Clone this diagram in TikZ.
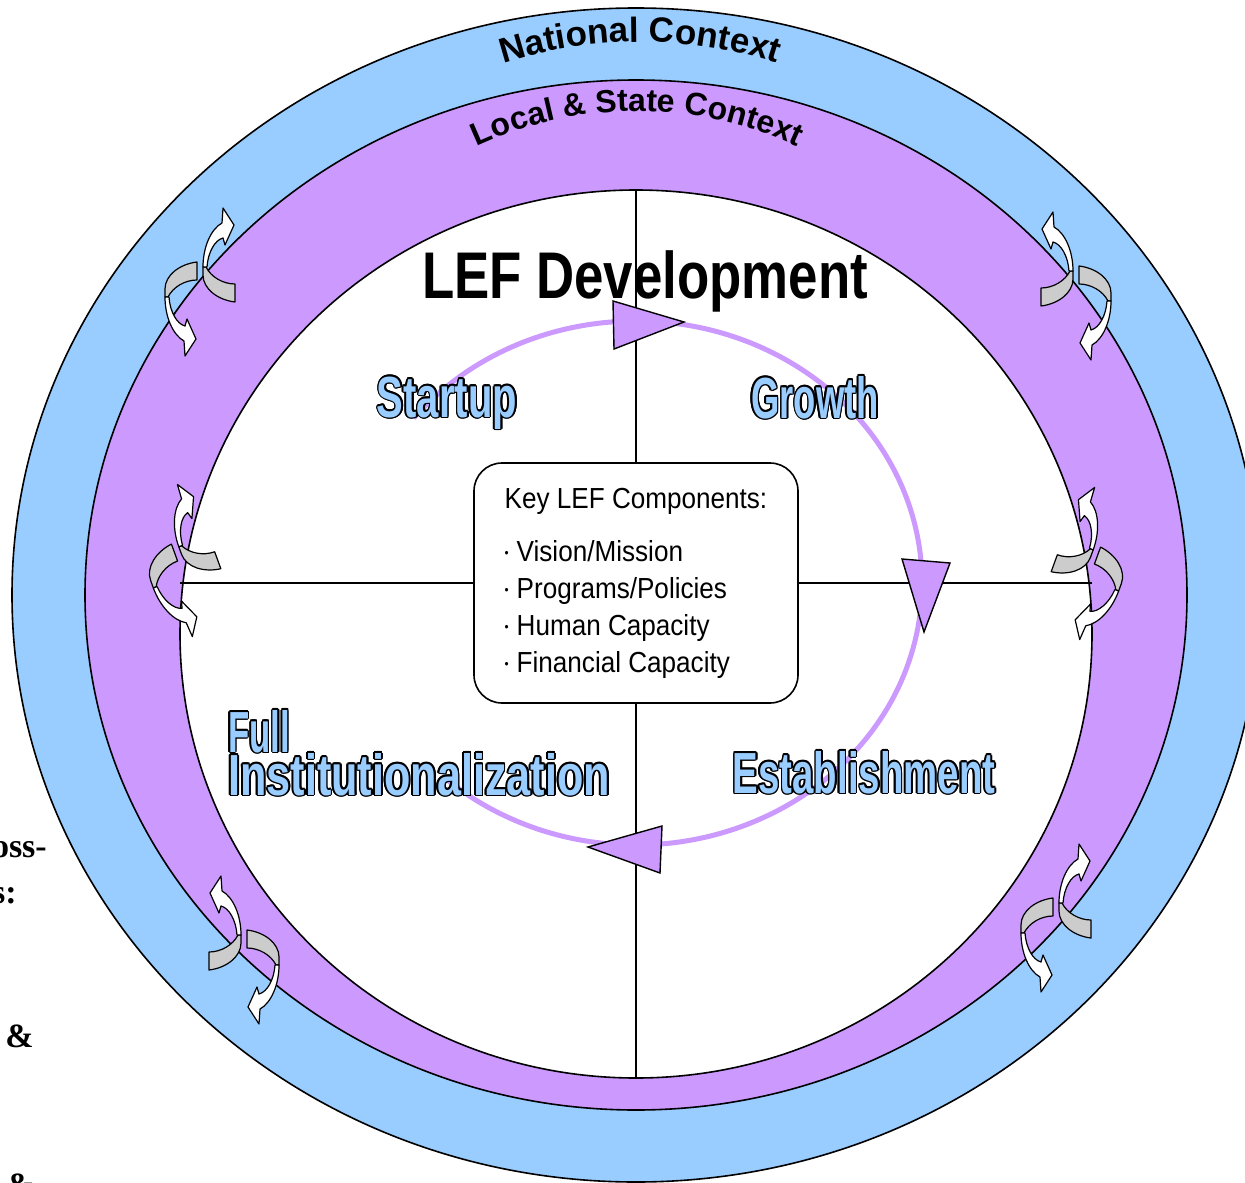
\documentclass[tikz,border=0pt]{standalone}
\usepackage{graphicx}
\usepackage{fontspec}
\setmainfont{Liberation Sans}
\newfontfamily\titlefont[FakeStretch=0.8]{Liberation Sans}
\newfontfamily\phasefont[FakeStretch=0.69]{Liberation Sans}
\newfontfamily\boxfont[FakeStretch=0.9]{Liberation Sans}
\newfontfamily\sidefont{Liberation Serif}
\usetikzlibrary{decorations.text}
\definecolor{nationblue}{HTML}{99CCFF}
\definecolor{localpurple}{HTML}{CC99FF}
\definecolor{swirlgray}{HTML}{CCCCCC}

\newcommand\edged[1]{%
  \leavevmode
  \foreach \a in {0,30,...,330}{%
    \pgfmathsetlengthmacro\ex{1.7pt*cos(\a)}%
    \pgfmathsetlengthmacro\ey{1.7pt*sin(\a)}%
    \rlap{\kern\ex\raise\ey\hbox{\color{black}#1}}}%
  \hbox{\color{nationblue}#1}}
\newcommand\keybullet{\makebox[12pt][l]{\raisebox{3.5pt}{\fontsize{13}{13}\selectfont\textbullet}}}

\begin{document}
\begin{tikzpicture}[x=1pt, y=1pt,
                    ring/.style={draw=black, line width=1.6pt},
                    cross/.style={draw=black, line width=1.4pt},
                    phase/.style={font=\phasefont\bfseries\fontsize{58}{46}\selectfont, inner sep=0pt},
                    side/.style={font=\sidefont\bfseries\fontsize{34}{34}\selectfont, inner sep=0pt, anchor=base east},
                    tip/.style={draw=black, fill=localpurple, line width=1.4pt},
                    swirl/.pic={
                      \filldraw[fill=swirlgray, line width=1.2pt, line join=round] (0,0) -- (3,0) .. controls (8,-10) and (20,-17) .. (32,-17) -- (32,-35) .. controls (15,-33) and (0,-22) .. (0,-8) -- cycle;
                      \filldraw[fill=white, line width=1.2pt, line join=round] (0,0) .. controls (0,20) and (8,38) .. (19,44) -- (20,59) -- (31,42) -- (22,22) -- (20,29) .. controls (12,27) and (5,15) .. (4,0) -- cycle;
                    },
                    exchange/.pic={
                      \pic[transform shape, yscale=-1] at (-20,-15) {swirl};
                      \pic[transform shape] at (18,15) {swirl};
                    }]

\useasboundingbox (0,0) rectangle (1245,-1183);

\coordinate (mid) at (636,-595);
\coordinate (core) at (636,-634);
\coordinate (hub) at (636,-583);
\coordinate (natl) at (640,-492);
\coordinate (locl) at (637,-491);

\path[ring, fill=nationblue] (mid) ellipse [x radius=624, y radius=587];
\path[ring, fill=localpurple] (mid) ellipse [x radius=551, y radius=515];
\path[ring, fill=white] (core) ellipse [x radius=456, y radius=444];

\path[decorate, decoration={text along path, text align=center,
      text={|\bfseries\fontsize{35}{35}\selectfont|National Context}}]
  ([shift={(124:450)}]natl) arc [start angle=124, end angle=56, radius=450];
\path[decorate, decoration={text along path, text align=center,
      text={|\bfseries\fontsize{32}{32}\selectfont|Local {\&} State Context}}]
  ([shift={(125:380)}]locl) arc [start angle=125, end angle=55, radius=380];

\coordinate (ntop) at (636,-190);
\coordinate (nbot) at (636,-1078);
\coordinate (nleft) at (180,-583);
\coordinate (nright) at (1092,-583);
\draw[cross] (ntop) -- (nbot);
\draw[cross] (nleft) -- (nright);

\draw[localpurple, line width=5pt] ([shift={(141:286 and 262)}]hub) arc [start angle=141, end angle=-132, x radius=286, y radius=262];

\node[draw=black, line width=1.6pt, fill=white, rounded corners=28pt, minimum width=324pt, minimum height=240pt,
      align=left, font=\boxfont\fontsize{29}{37}\selectfont] (key) at (hub)
  {Key LEF Components:\\[16pt]
   \keybullet Vision/Mission\\
   \keybullet Programs/Policies\\
   \keybullet Human Capacity\\
   \keybullet Financial Capacity};

\node[font=\titlefont\bfseries\fontsize{66}{66}\selectfont, anchor=base, inner sep=0pt] (lef) at (645,-298) {LEF Development};

\draw[tip] (613,-301) -- (614,-349) -- (684,-322) -- cycle;
\draw[tip] (902,-559) -- (950,-563) -- (924,-632) -- cycle;
\draw[tip] (662,-826) -- (660,-873) -- (588,-847) -- cycle;

\node[phase, anchor=base] (startup) at (447,-417) {\edged{Startup}};
\node[phase, anchor=base] (growth) at (815,-418) {\scalebox{0.91}[1]{\edged{Growth}}};
\node[phase, anchor=base] (establish) at (864,-793) {\scalebox{0.96}[1]{\edged{Establishment}}};
\node[phase, anchor=base west] (full) at (228,-752) {\scalebox{0.87}[1]{\edged{Full}}};
\node[phase, anchor=base west] (institution) at (228,-795) {\scalebox{1.08}[1]{\edged{Institutionalization}}};

\pic at (185,-282) {exchange};
\pic[xscale=-1] at (1091,-286) {exchange};
\pic[rotate=20] at (167,-567) {exchange};
\pic[rotate=-20, xscale=-1] at (1105,-570) {exchange};
\pic[xscale=-1] at (259,-950) {exchange};
\pic at (1041,-918) {exchange};

\node[side] (crossa) at (47,-857) {oss-};
\node[side] (crossb) at (17,-903) {s:};
\node[side] (ampa) at (34,-1047) {\&};
\node[side] (ampb) at (35,-1196) {\&};
\end{tikzpicture}
\end{document}
